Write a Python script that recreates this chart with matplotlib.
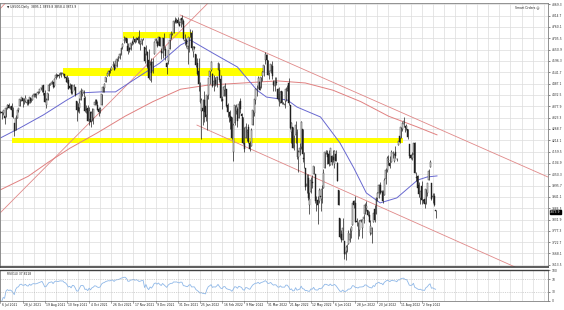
import matplotlib
matplotlib.use("Agg")
import matplotlib.pyplot as plt
import numpy as np
import pandas as pd

# ---------------- data (US500 daily, weekly rows Mon..Fri) ----------------
opens = [
4350,4352,4346,4330,4326, 4372,4382,4374,4380,4362, 4297,4265,4322,4361,4381, 4409,4417,4402,4404,4395,
4406,4392,4416,4407,4429, 4438,4432,4442,4448,4464, 4461,4478,4440,4382,4410, 4450,4481,4485,4493,4474,
4513,4529,4528,4533,4532, 4535,4535,4518,4513,4506, 4474,4479,4447,4477,4469, 4402,4375,4368,4406,4439,
4443,4420,4363,4370,4317, 4349,4309,4319,4383,4406, 4385,4364,4358,4386,4447, 4464,4497,4524,4532,4547,
4553,4579,4578,4562,4572, 4610,4611,4630,4662,4699, 4701,4707,4670,4659,4655, 4689,4684,4701,4700,4708,
4712,4678,4676,4701,4664, 4628,4640,4602,4504,4589, 4548,4631,4691,4686,4687, 4710,4642,4636,4709,4652,
4588,4594,4653,4703,4725, 4733,4795,4788,4795,4776, 4778,4804,4788,4693,4697, 4655,4670,4728,4733,4637,
4663,4632,4588,4548,4471, 4357,4367,4408,4380,4337, 4431,4519,4552,4535,4482, 4505,4480,4553,4554,4507,
4413,4429,4456,4459,4385, 4349,4332,4324,4155,4299, 4355,4363,4322,4401,4342, 4328,4203,4224,4252,4279,
4202,4188,4288,4345,4407, 4462,4466,4494,4470,4523, 4541,4602,4624,4600,4540, 4548,4572,4494,4475,4494,
4462,4438,4396,4449,4392, 4385,4405,4457,4490,4385, 4255,4278,4188,4241,4253, 4131,4159,4181,4270,4128,
4082,3992,4034,3902,3964, 4013,4052,4051,3901,3927, 3920,3943,3929,3985,4078, 4158,4152,4150,4096,4138,
4135,4101,4147,4102,3975, 3839,3764,3735,3729,3666, 3680,3716,3734,3775,3805, 3920,3913,3825,3785,3782,
3825,3792,3832,3858,3888, 3880,3852,3765,3764,3818, 3883,3860,3935,3960,4000, 3966,3965,3949,4027,4072,
4113,4104,4107,4154,4115, 4155,4123,4191,4233,4225, 4270,4291,4281,4273,4266, 4195,4141,4127,4150,4199,
4035,4041,4000,3937,3995, 3924,3931,3910,3960,4022, 4083,4010,3941,3947,3880]
highs = [
4356,4357,4361,4330,4372, 4387,4393,4378,4394,4372, 4297,4336,4359,4369,4415, 4423,4416,4416,4430,4412,
4414,4424,4419,4430,4440, 4440,4443,4449,4461,4469, 4480,4478,4455,4418,4444, 4489,4492,4502,4495,4513,
4537,4535,4537,4545,4541, 4540,4535,4522,4529,4521, 4492,4485,4481,4486,4471, 4402,4394,4416,4465,4457,
4456,4427,4385,4383,4375, 4356,4369,4365,4412,4412, 4401,4372,4372,4439,4475, 4488,4520,4540,4551,4560,
4573,4598,4584,4597,4608, 4621,4636,4664,4683,4718, 4714,4708,4684,4665,4685, 4697,4715,4708,4711,4717,
4743,4693,4703,4706,4664, 4673,4646,4652,4595,4608, 4612,4694,4705,4695,4713, 4712,4660,4709,4731,4666,
4591,4651,4701,4740,4731, 4791,4807,4805,4808,4787, 4797,4818,4798,4725,4707, 4673,4714,4749,4745,4666,
4668,4632,4611,4612,4495, 4417,4411,4453,4429,4432, 4516,4550,4596,4539,4529, 4521,4525,4590,4588,4527,
4427,4472,4490,4459,4395, 4350,4362,4325,4295,4385, 4389,4375,4402,4416,4343, 4328,4277,4299,4268,4292,
4209,4271,4358,4412,4465, 4481,4522,4501,4521,4546, 4576,4637,4628,4603,4548, 4583,4594,4504,4521,4521,
4464,4472,4453,4452,4400, 4411,4471,4479,4512,4386, 4300,4278,4240,4308,4270, 4169,4201,4308,4270,4158,
4082,4050,4050,3965,4039, 4046,4091,4051,3946,3944, 3982,3955,3999,4076,4158, 4168,4169,4167,4178,4143,
4169,4165,4165,4107,3975, 3839,3779,3838,3729,3707, 3712,3779,3792,3802,3913, 3928,3945,3837,3818,3830,
3832,3832,3859,3910,3919, 3880,3873,3830,3796,3864, 3903,3939,3965,4002,4013, 3975,3973,4033,4078,4140,
4144,4140,4167,4162,4152, 4186,4129,4211,4257,4280, 4301,4325,4281,4293,4266, 4195,4150,4156,4203,4204,
4062,4045,4015,3970,4018, 3930,3942,3981,4010,4077, 4119,4010,3962,3959,3880]
lows = [
4345,4318,4336,4290,4324, 4366,4367,4364,4351,4322, 4233,4262,4319,4350,4381, 4404,4374,4390,4400,4385,
4384,4393,4398,4406,4423, 4424,4420,4436,4440,4458, 4447,4430,4400,4367,4406, 4450,4482,4485,4468,4473,
4510,4521,4515,4529,4521, 4530,4513,4493,4492,4459, 4460,4436,4438,4457,4427, 4306,4351,4347,4406,4429,
4424,4351,4346,4307,4288, 4279,4309,4290,4383,4386, 4361,4329,4345,4386,4447, 4448,4497,4524,4524,4538,
4552,4569,4551,4562,4567, 4595,4605,4623,4655,4681, 4694,4670,4631,4638,4650, 4673,4680,4685,4689,4683,
4680,4651,4673,4698,4585, 4625,4560,4510,4504,4495, 4540,4631,4681,4665,4671, 4667,4606,4612,4648,4600,
4531,4583,4652,4703,4720, 4733,4780,4778,4775,4765, 4758,4775,4700,4671,4663, 4582,4638,4710,4650,4614,
4655,4568,4530,4450,4395, 4222,4287,4304,4309,4264, 4415,4484,4549,4470,4451, 4477,4471,4553,4494,4402,
4364,4429,4429,4375,4327, 4300,4267,4221,4115,4287, 4340,4279,4322,4346,4285, 4198,4157,4224,4209,4200,
4162,4188,4288,4330,4390, 4425,4466,4455,4465,4501, 4522,4582,4597,4530,4507, 4539,4511,4450,4450,4482,
4408,4381,4393,4390,4388, 4370,4405,4453,4384,4268, 4201,4175,4169,4199,4124, 4063,4144,4174,4107,4082,
3976,3960,3928,3860,3960, 3984,4051,3912,3875,3810, 3913,3875,3913,3985,4078, 4150,4101,4091,4096,4097,
4110,4080,4113,4017,3900, 3743,3722,3734,3640,3637, 3675,3716,3724,3743,3805, 3889,3820,3799,3738,3752,
3820,3742,3815,3858,3875, 3847,3818,3758,3721,3818, 3819,3860,3921,3936,3956, 3946,3911,3949,4003,4060,
4097,4080,4107,4128,4107, 4128,4112,4191,4201,4225, 4260,4277,4255,4265,4219, 4129,4124,4120,4148,4057,
4017,3970,3942,3907,3907, 3910,3886,3906,3945,4022, 4083,3928,3910,3895,3838]
closes = [
4352,4343,4358,4320,4370, 4385,4369,4374,4360,4327, 4258,4323,4359,4368,4412, 4422,4402,4401,4419,4395,
4387,4423,4402,4429,4437, 4432,4436,4447,4460,4468, 4479,4448,4400,4406,4442, 4479,4486,4496,4470,4509,
4529,4523,4524,4537,4535, 4537,4520,4514,4493,4459, 4468,4443,4480,4474,4433, 4358,4355,4395,4449,4455,
4443,4353,4360,4307,4357, 4300,4345,4363,4399,4391, 4361,4350,4364,4438,4471, 4486,4519,4536,4549,4545,
4567,4575,4551,4596,4605, 4613,4631,4660,4680,4697, 4701,4685,4646,4649,4682, 4682,4700,4688,4704,4697,
4682,4690,4701,4703,4595, 4655,4567,4513,4577,4538, 4591,4686,4701,4667,4712, 4668,4634,4709,4668,4620,
4568,4649,4697,4725,4727, 4791,4786,4793,4778,4766, 4797,4793,4701,4696,4677, 4670,4713,4726,4659,4663,
4660,4577,4533,4483,4398, 4410,4357,4350,4326,4432, 4516,4546,4589,4477,4501, 4484,4521,4587,4504,4419,
4401,4471,4475,4380,4349, 4330,4305,4226,4288,4385, 4374,4306,4387,4363,4329, 4201,4171,4278,4260,4204,
4173,4263,4358,4412,4463, 4461,4512,4456,4520,4543, 4575,4632,4602,4530,4546, 4583,4526,4481,4501,4488,
4413,4397,4447,4392,4395, 4391,4463,4459,4394,4272, 4296,4175,4184,4288,4132, 4155,4175,4300,4147,4123,
3991,4001,3935,3930,4024, 4008,4089,3923,3901,3901, 3974,3941,3979,4058,4158, 4160,4132,4101,4177,4109,
4121,4161,4115,4018,3901, 3750,3735,3790,3667,3675, 3700,3765,3760,3796,3912, 3900,3821,3819,3785,3825,
3830,3831,3845,3903,3899, 3855,3819,3801,3790,3863, 3831,3937,3960,3999,3962, 3967,3921,4024,4072,4130,
4119,4091,4155,4152,4145, 4140,4122,4210,4207,4280, 4297,4305,4274,4284,4228, 4138,4128,4141,4199,4058,
4031,3986,3955,3967,3924, 3920,3908,3980,4006,4067, 4110,3932,3946,3901,3873]

# moving averages (bar index, value)
ma50_idx = [0, 14, 31, 48, 57, 72, 83, 96, 115, 130, 137, 153, 171, 185, 192, 207, 214, 231, 245, 255, 264, 274, 286, 301, 308, 315]
ma50_val = [4225, 4273, 4336, 4408, 4442, 4447, 4447, 4504, 4586, 4673, 4697, 4635, 4567, 4456, 4422, 4408, 4374, 4326, 4201, 4080, 3960, 3912, 3936, 4022, 4037, 4042]
ma200_idx = [0, 20, 35, 50, 70, 90, 110, 130, 150, 175, 200, 220, 240, 260, 280, 300, 315]
ma200_val = [3975, 4040, 4110, 4175, 4250, 4330, 4400, 4460, 4480, 4490, 4500, 4490, 4455, 4400, 4330, 4280, 4240]

# drawn objects (bar index, price)
trend_down_upper = [(129.6, 4818), (395, 4037)]
trend_down_lower = [(141.8, 4287), (371.3, 3603)]
trend_up_lower = [(-0.3, 3863), (152.0, 4890)]
trend_up_upper = [(-0.3, 4847), (6.0, 4893)]
zones = [(88.5, 138.2, 4707, 4736), (45.2, 189.5, 4524, 4562), (8.4, 290.5, 4201, 4225)]

price_ticks = [3613.5, 3668.1, 3722.7, 3777.3, 3831.9, 3886.5, 3941.1, 3995.7, 4050.3, 4104.9,
               4159.5, 4214.1, 4268.7, 4323.3, 4377.9, 4432.5, 4487.1, 4541.7, 4596.3, 4650.9,
               4705.5, 4760.1, 4814.7, 4869.3]
date_labels = ["6 Jul 2021", "28 Jul 2021", "19 Aug 2021", "10 Sep 2021", "4 Oct 2021", "26 Oct 2021",
               "17 Nov 2021", "9 Dec 2021", "31 Dec 2021", "25 Jan 2022", "16 Feb 2022", "9 Mar 2022",
               "31 Mar 2022", "21 Apr 2022", "12 May 2022", "6 Jun 2022", "28 Jun 2022", "20 Jul 2022",
               "11 Aug 2022", "2 Sep 2022"]
rsi_ticks = [0, 30, 70, 100]
last_price = 3873.9

# ---------------- figure ----------------
W, H = 564, 310
fig = plt.figure(figsize=(W / 100, H / 100), dpi=100)
fig.patch.set_facecolor("white")
FS = 2.2
XL = (-0.3, 395.1)
YL = (3603, 4875.5)

def fa(x0, y0, x1, y1):
    return [x0 / W, 1 - y1 / H, (x1 - x0) / W, (y1 - y0) / H]

ax = fig.add_axes(fa(0, 3, 548, 267))
rax = fig.add_axes(fa(0, 270, 548, 301))

o = np.array(opens, float); h = np.array(highs, float); l = np.array(lows, float); c = np.array(closes, float)
x = np.arange(len(c))

grid_c = "#dcdcdc"
for a in (ax, rax):
    a.set_xlim(*XL)
    a.set_facecolor("white")
    a.set_xticks(np.arange(0, XL[1], 8))
    a.tick_params(axis="x", length=0, labelbottom=False)
    a.grid(True, color=grid_c, lw=0.5)
    a.set_axisbelow(True)
    for s in ["left", "top", "right", "bottom"]:
        a.spines[s].set_color("#808080")
        a.spines[s].set_linewidth(0.6)
ax.spines["bottom"].set_color("#404040"); ax.spines["bottom"].set_linewidth(1.2)
rax.spines["top"].set_color("#404040"); rax.spines["top"].set_linewidth(1.0)

ax.set_ylim(*YL)
ax.yaxis.tick_right()
ax.set_yticks(price_ticks)
ax.set_yticklabels([f"{v:.1f}" for v in price_ticks])
ax.tick_params(axis="y", labelsize=FS, length=1.5, width=0.4, pad=1, colors="#303030")

# zones
for x0, x1, p0, p1 in zones:
    ax.fill_between([x0, x1], p0, p1, color="#ffff00", lw=0, zorder=1)

# trend lines
for seg in (trend_down_upper, trend_down_lower, trend_up_lower, trend_up_upper):
    ax.plot([seg[0][0], seg[1][0]], [seg[0][1], seg[1][1]], color="#e08888", lw=0.6, zorder=2)

# moving averages
ax.plot(ma200_idx, ma200_val, color="#e08080", lw=0.7, zorder=2)
ax.plot(ma50_idx, ma50_val, color="#6868d0", lw=0.7, zorder=2)

# candles
up = c >= o
ax.vlines(x, l, h, color="#202020", lw=0.5, zorder=3)
bot = np.minimum(o, c); ht = np.maximum(np.abs(c - o), 1.5)
ax.bar(x[up], ht[up], bottom=bot[up], width=0.7, color="white", edgecolor="#202020", lw=0.3, zorder=4)
ax.bar(x[~up], ht[~up], bottom=bot[~up], width=0.7, color="#202020", edgecolor="#202020", lw=0.3, zorder=4)

# last price marker (slightly below the price so it does not collide with a tick label)
ax.text(1.004, (last_price - YL[0]) / (YL[1] - YL[0]) - 0.004, f"{last_price:.1f}", transform=ax.transAxes,
        fontsize=FS, color="white", va="center", ha="left", zorder=10,
        bbox=dict(boxstyle="square,pad=0.05", fc="black", ec="black"))

ax.text(0.012, 0.992, "\u25bc US500,Daily  3895.1 3899.8 3858.4 3873.9", transform=ax.transAxes,
        fontsize=FS, color="#202020", va="top", ha="left")
ax.text(0.985, 0.992, "Smart Orders \u263a", transform=ax.transAxes, fontsize=FS, color="#202020",
        va="top", ha="right")

# RSI(14)
s = pd.Series(c)
d = s.diff()
gain = d.clip(lower=0).ewm(alpha=1 / 14, adjust=False).mean()
loss = (-d.clip(upper=0)).ewm(alpha=1 / 14, adjust=False).mean()
rsi = 100 - 100 / (1 + gain / loss)
rax.plot(x[1:], rsi.values[1:], color="#8fb8e8", lw=0.6)
rax.set_ylim(0, 100)
rax.yaxis.tick_right()
rax.set_yticks(rsi_ticks)
rax.set_yticklabels([str(t) for t in rsi_ticks])
rax.tick_params(axis="y", labelsize=FS, length=1.5, width=0.4, pad=1, colors="#303030")
rax.yaxis.grid(False)
for lv in (30, 70):
    rax.axhline(lv, color="#b0b0b0", lw=0.4, ls=(0, (2, 2)))
rax.text(0.012, 0.95, f"RSI(14) {rsi.values[-1]:.4f}", transform=rax.transAxes, fontsize=FS,
         color="#202020", va="top", ha="left")

# date labels
for k, lab in enumerate(date_labels):
    xi = k * 16
    xp = (xi - XL[0]) / (XL[1] - XL[0]) * 548 / W
    fig.text(xp + 1.5 / W, 1 - 305 / H, lab, fontsize=FS, color="#202020", va="center", ha="left")
    fig.add_artist(plt.Line2D([xp, xp], [1 - 301 / H, 1 - 303 / H], color="#606060", lw=0.4))

fig.savefig("out.png", dpi=100, facecolor="white")
